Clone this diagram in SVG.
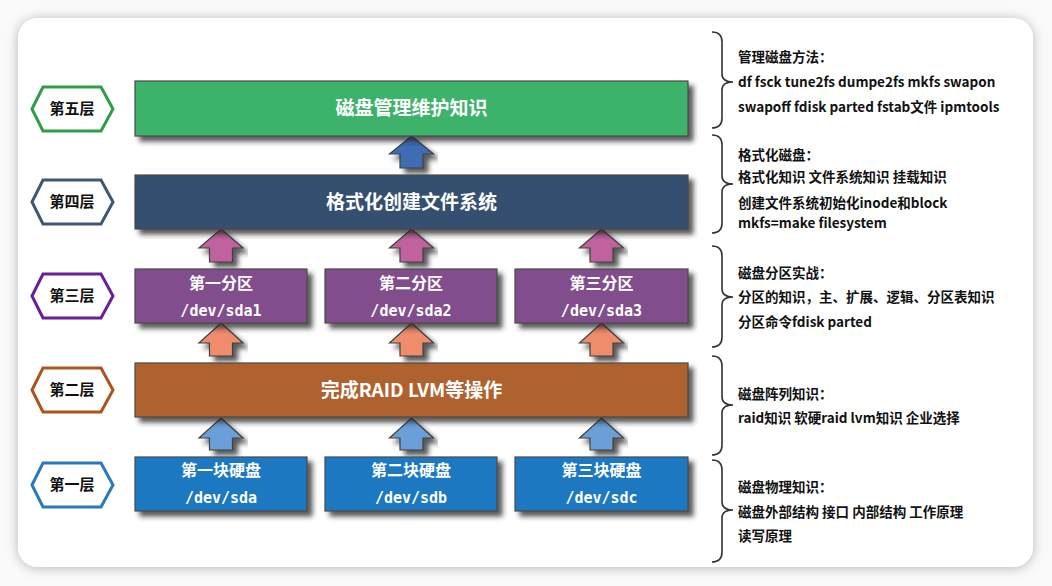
<svg xmlns="http://www.w3.org/2000/svg" width="1052" height="586" viewBox="0 0 1052 586">
<defs>
<filter id="cardShadow" x="-5%" y="-5%" width="110%" height="110%">
<feDropShadow dx="0" dy="1" stdDeviation="6" flood-color="#000" flood-opacity="0.28"/>
</filter>
<filter id="boxShadow" x="-10%" y="-20%" width="120%" height="150%">
<feDropShadow dx="5" dy="5" stdDeviation="2.5" flood-color="#222" flood-opacity="0.75"/>
</filter>
<style>
.box{stroke:#4a4a4a;stroke-width:1.2;filter:url(#boxShadow)}
.arrow{stroke:#404040;stroke-width:1.2;filter:url(#boxShadow)}
.hex{fill:#fff;stroke-width:3}
.hexText{font-family:"Noto Sans CJK SC","Noto Sans CJK TC",sans-serif;font-weight:700;font-size:15px;fill:#111;text-anchor:middle}
.big{font-family:"Noto Sans CJK SC",sans-serif;font-weight:700;font-size:19px;fill:#fff;text-anchor:middle}
.cn{font-family:"Noto Sans CJK SC",sans-serif;font-weight:700;font-size:16px;fill:#fff;text-anchor:middle}
.mono{font-family:"DejaVu Sans Mono","Noto Sans CJK SC",monospace;font-weight:700;font-size:15px;fill:#fff;text-anchor:middle}
.note{font-family:"Noto Sans CJK SC",sans-serif;font-weight:700;font-size:13.5px;fill:#111}
.brace{fill:none;stroke:#333;stroke-width:1.6}
</style>
</defs>
<rect x="0" y="0" width="1052" height="586" fill="#fafafa"/>
<rect x="18" y="18" width="1015" height="549" rx="20" ry="20" fill="#fff" filter="url(#cardShadow)"/>

<g id="hex5"><polygon class="hex" stroke="#2e9e46" points="32,109 43,87 101,87 113,109 101,131 43,131"/><text class="hexText" x="72" y="114">第五层</text></g>
<g id="hex4"><polygon class="hex" stroke="#3d5775" points="32,202 43,180 101,180 113,202 101,224 43,224"/><text class="hexText" x="72" y="207">第四层</text></g>
<g id="hex3"><polygon class="hex" stroke="#6a1f98" points="32,296 43,274 101,274 113,296 101,318 43,318"/><text class="hexText" x="72" y="301">第三层</text></g>
<g id="hex2"><polygon class="hex" stroke="#ad531f" points="32,390 43,368 101,368 113,390 101,412 43,412"/><text class="hexText" x="72" y="395">第二层</text></g>
<g id="hex1"><polygon class="hex" stroke="#2a78bd" points="32,485 43,463 101,463 113,485 101,507 43,507"/><text class="hexText" x="72" y="490">第一层</text></g>

<g id="connectors">
<polygon class="arrow" fill="#3f6cb4" points="411.5,136 433.5,154 423,154 423,168 400,168 400,154 389.5,154"/>
<polygon class="arrow" fill="#c0629e" points="221,229 243,248 232.5,248 232.5,262 209.5,262 209.5,248 199,248"/>
<polygon class="arrow" fill="#c0629e" points="411.5,229 433.5,248 423,248 423,262 400,262 400,248 389.5,248"/>
<polygon class="arrow" fill="#c0629e" points="601.5,229 623.5,248 613,248 613,262 590,262 590,248 579.5,248"/>
<polygon class="arrow" fill="#ef8c6c" points="221,323 243,343 232.5,343 232.5,356 209.5,356 209.5,343 199,343"/>
<polygon class="arrow" fill="#ef8c6c" points="411.5,323 433.5,343 423,343 423,356 400,356 400,343 389.5,343"/>
<polygon class="arrow" fill="#ef8c6c" points="601.5,323 623.5,343 613,343 613,356 590,356 590,343 579.5,343"/>
<polygon class="arrow" fill="#6b9fd8" points="221,418 243,438 232.5,438 232.5,450 209.5,450 209.5,438 199,438"/>
<polygon class="arrow" fill="#6b9fd8" points="411.5,418 433.5,438 423,438 423,450 400,450 400,438 389.5,438"/>
<polygon class="arrow" fill="#6b9fd8" points="601.5,418 623.5,438 613,438 613,450 590,450 590,438 579.5,438"/>
</g>

<g id="layer5"><rect class="box" x="135" y="81" width="553" height="55" fill="#3cb26a"/><text class="big" x="411.5" y="115">磁盘管理维护知识</text></g>
<g id="layer4"><rect class="box" x="135" y="175" width="553" height="54" fill="#36506f"/><text class="big" x="411.5" y="209">格式化创建文件系统</text></g>
<g id="part1"><rect class="box" x="135" y="269" width="172" height="54" fill="#824e8c"/><text class="cn" x="221" y="289">第一分区</text><text class="mono" x="221" y="316">/dev/sda1</text></g>
<g id="part2"><rect class="box" x="325" y="269" width="172" height="54" fill="#824e8c"/><text class="cn" x="411" y="289">第二分区</text><text class="mono" x="411" y="316">/dev/sda2</text></g>
<g id="part3"><rect class="box" x="515" y="269" width="173" height="54" fill="#824e8c"/><text class="cn" x="601.5" y="289">第三分区</text><text class="mono" x="601.5" y="316">/dev/sda3</text></g>
<g id="layer2"><rect class="box" x="135" y="363" width="553" height="54" fill="#b0622e"/><text class="big" x="411.5" y="397">完成RAID LVM等操作</text></g>
<g id="disk1"><rect class="box" x="135" y="457" width="172" height="54" fill="#1f78c1"/><text class="cn" x="221" y="476">第一块硬盘</text><text class="mono" x="221" y="503">/dev/sda</text></g>
<g id="disk2"><rect class="box" x="325" y="457" width="172" height="54" fill="#1f78c1"/><text class="cn" x="411" y="476">第二块硬盘</text><text class="mono" x="411" y="503">/dev/sdb</text></g>
<g id="disk3"><rect class="box" x="515" y="457" width="173" height="54" fill="#1f78c1"/><text class="cn" x="601.5" y="476">第三块硬盘</text><text class="mono" x="601.5" y="503">/dev/sdc</text></g>

<g id="notes">
<path class="brace" d="M712,32 Q722,32 722,42 L722,74 Q722,82 733,82 Q722,82 722,90 L722,118 Q722,128 712,128"/>
<path class="brace" d="M712,135 Q722,135 722,145 L722,176 Q722,184 733,184 Q722,184 722,192 L722,223 Q722,233 712,233"/>
<path class="brace" d="M712,246 Q722,246 722,256 L722,289 Q722,297 733,297 Q722,297 722,305 L722,337 Q722,347 712,347"/>
<path class="brace" d="M712,356 Q722,356 722,366 L722,397 Q722,405 733,405 Q722,405 722,413 L722,445 Q722,455 712,455"/>
<path class="brace" d="M712,460 Q722,460 722,470 L722,502 Q722,510 733,510 Q722,510 722,518 L722,552 Q722,562 712,562"/>
<text class="note" x="738" y="62">管理磁盘方法：</text>
<text class="note" x="738" y="87">df fsck tune2fs dumpe2fs mkfs swapon</text>
<text class="note" x="738" y="112">swapoff fdisk parted fstab文件 ipmtools</text>
<text class="note" x="738" y="160">格式化磁盘：</text>
<text class="note" x="738" y="182">格式化知识 文件系统知识 挂载知识</text>
<text class="note" x="738" y="208">创建文件系统初始化inode和block</text>
<text class="note" x="738" y="228">mkfs=make filesystem</text>
<text class="note" x="738" y="278">磁盘分区实战：</text>
<text class="note" x="738" y="302">分区的知识，主、扩展、逻辑、分区表知识</text>
<text class="note" x="738" y="327">分区命令fdisk parted</text>
<text class="note" x="738" y="399">磁盘阵列知识：</text>
<text class="note" x="738" y="423">raid知识 软硬raid lvm知识 企业选择</text>
<text class="note" x="738" y="492">磁盘物理知识：</text>
<text class="note" x="738" y="517">磁盘外部结构 接口 内部结构 工作原理</text>
<text class="note" x="738" y="541">读写原理</text>
</g>
</svg>
